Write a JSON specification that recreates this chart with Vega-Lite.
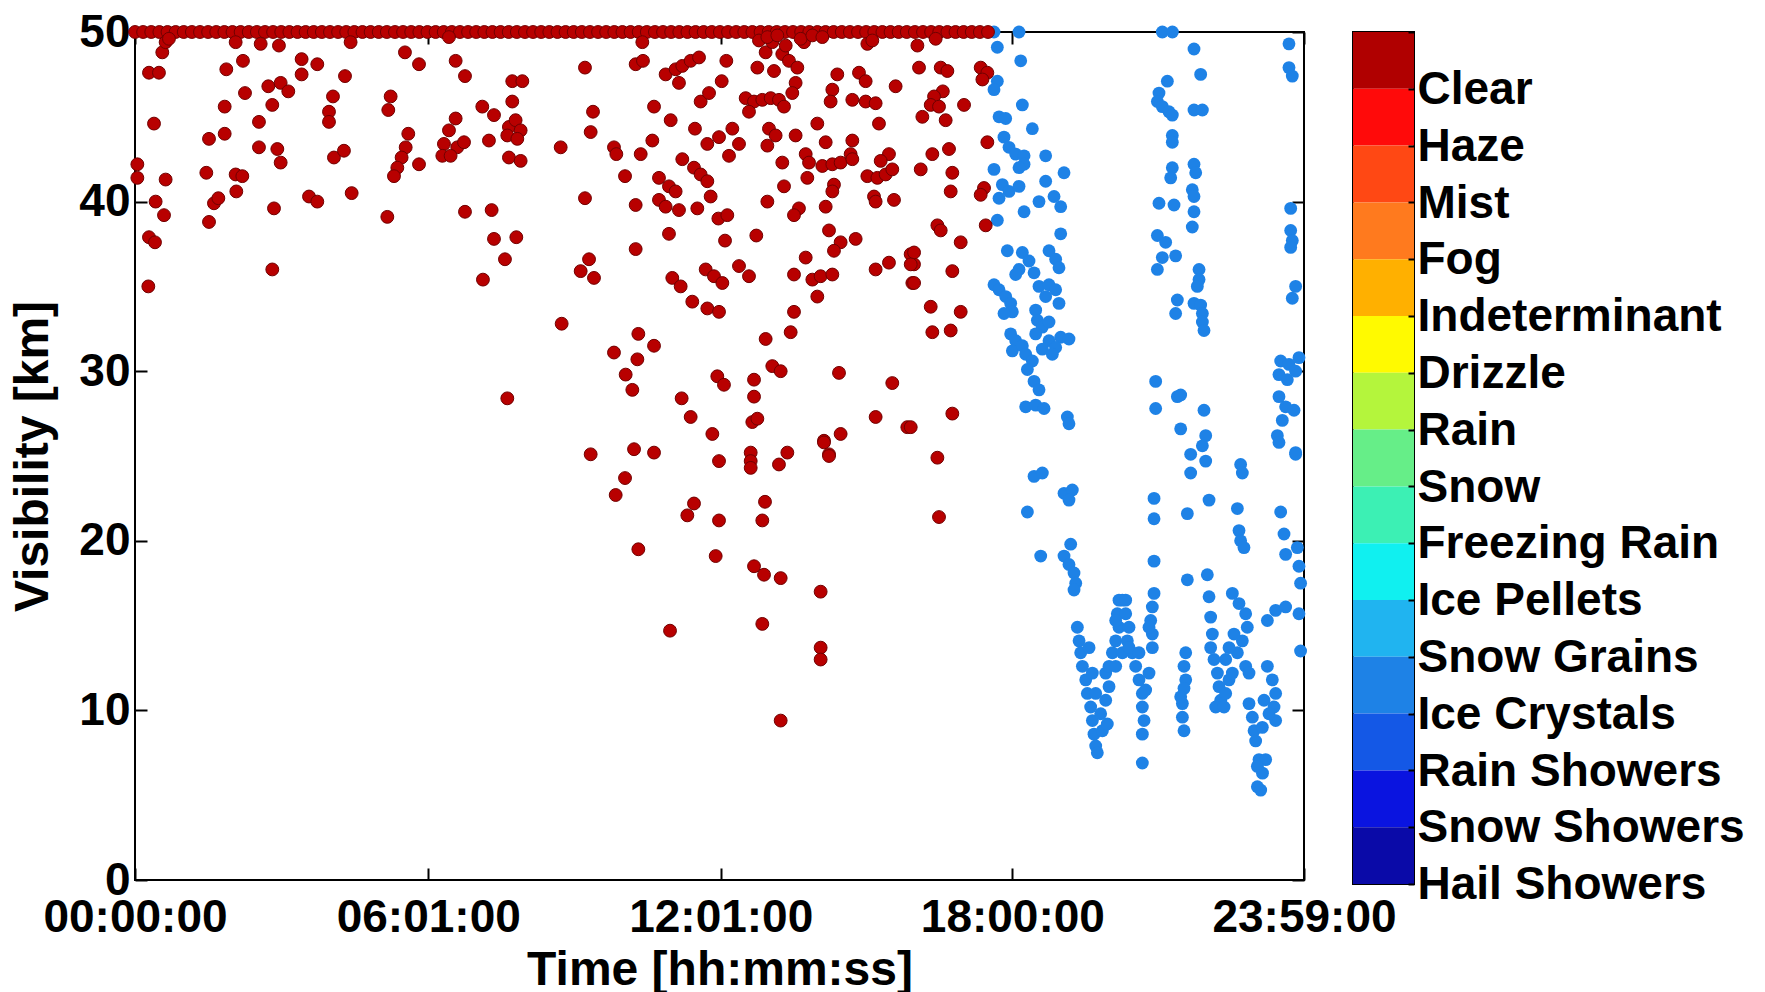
{
"$schema":"https://vega.github.io/schema/vega-lite/v6.json",
"background":"white",
"padding":{"left":8,"top":8,"right":2,"bottom":0},
"bounds":"flush",
"spacing":49,
"config":{"font":"Liberation Sans","view":{"stroke":"black","strokeWidth":2}},
"datasets":{
"line50":[{"t":0,"v":50},{"t":10,"v":50},{"t":20,"v":50},{"t":30,"v":50},{"t":40,"v":50},{"t":50,"v":50},{"t":60,"v":50},{"t":70,"v":50},{"t":80,"v":50},{"t":90,"v":50},{"t":100,"v":50},{"t":110,"v":50},{"t":120,"v":50},{"t":130,"v":50},{"t":140,"v":50},{"t":150,"v":50},{"t":160,"v":50},{"t":170,"v":50},{"t":180,"v":50},{"t":190,"v":50},{"t":200,"v":50},{"t":210,"v":50},{"t":220,"v":50},{"t":230,"v":50},{"t":240,"v":50},{"t":250,"v":50},{"t":260,"v":50},{"t":270,"v":50},{"t":280,"v":50},{"t":290,"v":50},{"t":300,"v":50},{"t":310,"v":50},{"t":320,"v":50},{"t":330,"v":50},{"t":340,"v":50},{"t":350,"v":50},{"t":360,"v":50},{"t":370,"v":50},{"t":380,"v":50},{"t":390,"v":50},{"t":400,"v":50},{"t":410,"v":50},{"t":420,"v":50},{"t":430,"v":50},{"t":440,"v":50},{"t":450,"v":50},{"t":460,"v":50},{"t":470,"v":50},{"t":480,"v":50},{"t":490,"v":50},{"t":500,"v":50},{"t":510,"v":50},{"t":520,"v":50},{"t":530,"v":50},{"t":540,"v":50},{"t":550,"v":50},{"t":560,"v":50},{"t":570,"v":50},{"t":580,"v":50},{"t":590,"v":50},{"t":600,"v":50},{"t":610,"v":50},{"t":620,"v":50},{"t":630,"v":50},{"t":640,"v":50},{"t":650,"v":50},{"t":660,"v":50},{"t":670,"v":50},{"t":680,"v":50},{"t":690,"v":50},{"t":700,"v":50},{"t":710,"v":50},{"t":720,"v":50},{"t":730,"v":50},{"t":740,"v":50},{"t":750,"v":50},{"t":760,"v":50},{"t":770,"v":50},{"t":780,"v":50},{"t":790,"v":50},{"t":800,"v":50},{"t":810,"v":50},{"t":820,"v":50},{"t":830,"v":50},{"t":840,"v":50},{"t":850,"v":50},{"t":860,"v":50},{"t":870,"v":50},{"t":880,"v":50},{"t":890,"v":50},{"t":900,"v":50},{"t":910,"v":50},{"t":920,"v":50},{"t":930,"v":50},{"t":940,"v":50},{"t":950,"v":50},{"t":960,"v":50},{"t":970,"v":50},{"t":980,"v":50},{"t":990,"v":50},{"t":1000,"v":50},{"t":1010,"v":50},{"t":1020,"v":50},{"t":1030,"v":50},{"t":1040,"v":50},{"t":1050,"v":50}],
"clear":[{"t":33.6,"v":48.8},{"t":17.2,"v":47.6},{"t":29.5,"v":47.6},{"t":23.4,"v":44.6},{"t":2.9,"v":42.2},{"t":2.9,"v":41.4},{"t":37.7,"v":41.3},{"t":25.4,"v":40.0},{"t":35.7,"v":39.2},{"t":17.2,"v":37.9},{"t":24.6,"v":37.6},{"t":16.4,"v":35.0},{"t":37.7,"v":49.4},{"t":41.8,"v":49.6},{"t":123.9,"v":49.4},{"t":112.4,"v":47.8},{"t":132.9,"v":48.3},{"t":135.4,"v":46.4},{"t":110.4,"v":45.6},{"t":91.1,"v":43.7},{"t":110.4,"v":44.0},{"t":87.8,"v":41.7},{"t":123.9,"v":41.6},{"t":132.1,"v":41.5},{"t":124.7,"v":40.6},{"t":97.2,"v":39.9},{"t":102.6,"v":40.2},{"t":91.1,"v":38.8},{"t":154.7,"v":49.3},{"t":177.2,"v":49.2},{"t":164.1,"v":46.8},{"t":179.3,"v":47.0},{"t":188.7,"v":46.5},{"t":169.0,"v":45.7},{"t":152.6,"v":44.7},{"t":152.6,"v":43.2},{"t":175.2,"v":43.1},{"t":179.3,"v":42.3},{"t":171.1,"v":39.6},{"t":169.0,"v":36.0},{"t":205.1,"v":48.4},{"t":205.1,"v":47.5},{"t":224.4,"v":48.1},{"t":214.2,"v":40.3},{"t":224.4,"v":40.0},{"t":243.7,"v":46.2},{"t":238.8,"v":45.3},{"t":238.8,"v":44.7},{"t":258.5,"v":47.4},{"t":244.9,"v":42.6},{"t":257.2,"v":43.0},{"t":266.7,"v":40.5},{"t":265.4,"v":49.4},{"t":332.3,"v":48.8},{"t":349.6,"v":48.1},{"t":314.7,"v":46.2},{"t":311.8,"v":45.4},{"t":336.4,"v":44.0},{"t":333.2,"v":43.2},{"t":328.2,"v":42.6},{"t":322.9,"v":42.0},{"t":318.8,"v":41.5},{"t":349.6,"v":42.2},{"t":310.6,"v":39.1},{"t":394.7,"v":48.3},{"t":406.2,"v":47.4},{"t":386.5,"v":49.7},{"t":394.7,"v":44.9},{"t":386.5,"v":44.2},{"t":380.3,"v":43.4},{"t":378.3,"v":42.7},{"t":396.7,"v":43.2},{"t":405.0,"v":43.5},{"t":388.5,"v":42.7},{"t":427.5,"v":45.6},{"t":441.9,"v":45.1},{"t":435.7,"v":43.6},{"t":406.2,"v":39.4},{"t":439.0,"v":39.5},{"t":441.9,"v":37.8},{"t":469.4,"v":37.9},{"t":455.4,"v":36.6},{"t":428.3,"v":35.4},{"t":458.3,"v":28.4},{"t":464.4,"v":47.1},{"t":476.8,"v":47.1},{"t":464.4,"v":45.9},{"t":460.3,"v":44.4},{"t":468.5,"v":44.8},{"t":474.7,"v":44.2},{"t":458.3,"v":43.9},{"t":470.6,"v":43.7},{"t":460.3,"v":42.6},{"t":474.7,"v":42.4},
{"t":624.5,"v":49.4},{"t":553.9,"v":47.9},{"t":616.3,"v":48.1},{"t":625.3,"v":48.3},{"t":653.2,"v":47.5},{"t":665.5,"v":47.8},{"t":673.7,"v":48.0},{"t":684.0,"v":48.3},{"t":694.3,"v":48.5},{"t":669.6,"v":47.0},{"t":727.9,"v":48.3},{"t":722.2,"v":47.1},{"t":696.3,"v":45.9},{"t":706.6,"v":46.4},{"t":638.9,"v":45.6},{"t":659.4,"v":44.8},{"t":563.8,"v":45.3},{"t":560.9,"v":44.1},{"t":524.0,"v":43.2},{"t":589.6,"v":43.2},{"t":592.5,"v":42.8},{"t":636.8,"v":43.6},{"t":622.5,"v":42.8},{"t":689.3,"v":44.3},{"t":735.3,"v":44.3},{"t":718.9,"v":43.8},{"t":704.5,"v":43.4},{"t":743.5,"v":43.4},{"t":731.2,"v":42.7},{"t":673.7,"v":42.5},{"t":688.1,"v":42.0},{"t":696.3,"v":41.6},{"t":704.5,"v":41.2},{"t":603.2,"v":41.5},{"t":645.0,"v":41.4},{"t":657.3,"v":40.9},{"t":665.5,"v":40.6},{"t":708.6,"v":40.3},{"t":553.9,"v":40.2},{"t":616.3,"v":39.8},{"t":645.0,"v":40.1},{"t":653.2,"v":39.7},{"t":669.6,"v":39.5},{"t":692.2,"v":39.6},{"t":718.1,"v":39.0},{"t":729.1,"v":39.2},{"t":657.3,"v":38.1},{"t":726.3,"v":37.7},{"t":764.8,"v":38.0},{"t":616.3,"v":37.2},{"t":558.9,"v":36.6},{"t":548.6,"v":35.9},{"t":565.0,"v":35.5},{"t":661.4,"v":35.5},{"t":671.7,"v":35.0},{"t":702.5,"v":36.0},{"t":712.7,"v":35.6},{"t":723.0,"v":35.2},{"t":743.5,"v":36.2},{"t":755.8,"v":35.6},{"t":686.0,"v":34.1},{"t":704.5,"v":33.7},{"t":718.9,"v":33.5},{"t":525.2,"v":32.8},{"t":619.6,"v":32.2},{"t":589.6,"v":31.1},{"t":638.9,"v":31.5},{"t":618.4,"v":30.7},{"t":604.0,"v":29.8},{"t":612.2,"v":28.9},{"t":776.3,"v":31.9},{"t":716.8,"v":29.7},{"t":725.0,"v":29.2},{"t":672.9,"v":28.4},{"t":684.0,"v":27.3},{"t":710.7,"v":26.3},{"t":762.0,"v":29.5},{"t":762.0,"v":28.5},{"t":759.9,"v":27.0},{"t":766.1,"v":27.2},{"t":784.5,"v":30.3},{"t":794.8,"v":30.0},{"t":778.4,"v":40.0},{"t":766.1,"v":47.9},{"t":786.6,"v":47.7},{"t":776.3,"v":48.8},{"t":784.5,"v":49.4},{"t":796.8,"v":48.7},{"t":805.0,"v":48.3},{"t":815.3,"v":47.9},{"t":823.5,"v":49.4},{"t":813.2,"v":47.0},{"t":809.1,"v":46.4},{"t":751.7,"v":46.1},{"t":762.0,"v":45.9},{"t":772.2,"v":46.0},{"t":782.5,"v":46.1},{"t":792.7,"v":46.0},{"t":798.9,"v":45.6},{"t":755.8,"v":45.3},{"t":780.4,"v":44.3},{"t":788.6,"v":43.9},{"t":778.4,"v":43.3},{"t":813.2,"v":43.9},{"t":796.8,"v":42.3},{"t":798.9,"v":40.9},{"t":839.9,"v":44.6},{"t":825.6,"v":42.8},{"t":829.7,"v":42.3},{"t":827.6,"v":41.4},{"t":850.2,"v":43.5},{"t":846.1,"v":42.1},{"t":858.4,"v":42.2},{"t":868.6,"v":42.3},{"t":883.0,"v":43.6},{"t":880.9,"v":42.8},{"t":883.0,"v":42.5},{"t":860.4,"v":41.0},{"t":858.4,"v":40.6},{"t":850.2,"v":39.7},{"t":817.3,"v":39.6},{"t":811.2,"v":39.2},{"t":864.5,"v":47.5},{"t":858.4,"v":46.6},{"t":856.3,"v":45.9},{"t":891.2,"v":47.6},{"t":899.4,"v":47.1},{"t":883.0,"v":46.0},{"t":899.4,"v":45.9},{"t":911.7,"v":45.8},{"t":936.3,"v":46.8},{"t":915.8,"v":44.6},{"t":901.5,"v":41.5},{"t":913.8,"v":41.4},{"t":924.0,"v":41.6},{"t":928.1,"v":42.8},{"t":917.9,"v":42.4},{"t":932.2,"v":41.9},{"t":909.7,"v":40.3},{"t":911.7,"v":40.0},{"t":934.3,"v":40.1},{"t":854.3,"v":38.3},{"t":868.6,"v":37.6},{"t":860.4,"v":37.1},{"t":887.1,"v":37.8},{"t":825.6,"v":36.7},{"t":811.2,"v":35.7},{"t":833.8,"v":35.4},{"t":844.0,"v":35.6},{"t":858.4,"v":35.7},{"t":839.9,"v":34.4},{"t":811.2,"v":33.5},{"t":807.1,"v":32.3},{"t":911.7,"v":36.0},{"t":928.1,"v":36.4},{"t":954.8,"v":36.9},{"t":958.9,"v":36.3},{"t":956.9,"v":35.2},{"t":866.6,"v":29.9},{"t":932.2,"v":29.3},{"t":911.7,"v":27.3},{"t":950.7,"v":26.7},{"t":848.1,"v":25.9},{"t":868.6,"v":26.3},{"t":854.3,"v":25.1},{"t":901.5,"v":49.3},{"t":768.1,"v":49.5},{"t":778.4,"v":49.7},{"t":790.7,"v":49.8},{"t":801.0,"v":49.2},{"t":819.4,"v":49.6},{"t":833.8,"v":49.8},{"t":846.1,"v":49.7},{"t":907.6,"v":49.5},
{"t":560.9,"v":25.1},{"t":614.3,"v":25.4},{"t":638.9,"v":25.2},{"t":718.9,"v":24.7},{"t":757.9,"v":25.2},{"t":757.9,"v":24.7},{"t":757.9,"v":24.3},{"t":792.7,"v":24.5},{"t":803.0,"v":25.2},{"t":848.1,"v":25.8},{"t":854.3,"v":25.0},{"t":603.2,"v":23.7},{"t":591.7,"v":22.7},{"t":688.1,"v":22.2},{"t":679.9,"v":21.5},{"t":718.9,"v":21.2},{"t":775.5,"v":22.3},{"t":772.2,"v":21.2},{"t":619.6,"v":19.5},{"t":714.8,"v":19.1},{"t":762.0,"v":18.5},{"t":774.3,"v":18.0},{"t":794.8,"v":17.8},{"t":844.0,"v":17.0},{"t":658.6,"v":14.7},{"t":772.2,"v":15.1},{"t":844.0,"v":13.7},{"t":844.0,"v":13.0},{"t":794.8,"v":9.4},
{"t":963.1,"v":49.2},{"t":985.6,"v":49.6},{"t":965.1,"v":47.9},{"t":991.8,"v":47.9},{"t":1000.0,"v":47.7},{"t":1041.0,"v":47.9},{"t":1049.2,"v":47.6},{"t":1043.1,"v":47.2},{"t":994.4,"v":46.5},{"t":983.6,"v":46.2},{"t":979.5,"v":45.7},{"t":989.7,"v":45.6},{"t":969.2,"v":45.0},{"t":997.9,"v":44.8},{"t":1020.5,"v":45.7},{"t":1049.2,"v":43.5},{"t":981.5,"v":42.8},{"t":1002.0,"v":43.1},{"t":967.2,"v":41.9},{"t":1006.1,"v":41.7},{"t":1004.1,"v":40.6},{"t":1045.1,"v":40.8},{"t":1041.0,"v":40.4},{"t":987.7,"v":38.6},{"t":991.8,"v":38.3},{"t":1047.2,"v":38.6},{"t":1016.4,"v":37.6},{"t":959.0,"v":37.0},{"t":954.9,"v":36.3},{"t":959.0,"v":35.2},{"t":1006.1,"v":35.9},{"t":979.5,"v":33.8},{"t":1016.4,"v":33.5},{"t":981.5,"v":32.3},{"t":1004.1,"v":32.4},{"t":1006.1,"v":27.5},{"t":954.9,"v":26.7},{"t":987.7,"v":24.9},{"t":989.7,"v":21.4}],
"ice":[{"t":1057.4,"v":50.0},{"t":1088.2,"v":50.0},{"t":1061.5,"v":49.1},{"t":1090.3,"v":48.3},{"t":1061.5,"v":47.1},{"t":1057.4,"v":46.6},{"t":1092.3,"v":45.7},{"t":1063.6,"v":45.0},{"t":1071.8,"v":44.9},{"t":1104.6,"v":44.3},{"t":1069.7,"v":43.8},{"t":1075.9,"v":43.2},{"t":1084.1,"v":42.8},{"t":1094.4,"v":42.7},{"t":1094.4,"v":42.2},{"t":1088.2,"v":42.0},{"t":1057.4,"v":41.9},{"t":1121.0,"v":42.7},{"t":1143.6,"v":41.7},{"t":1121.0,"v":41.2},{"t":1067.7,"v":41.0},{"t":1075.9,"v":40.6},{"t":1088.2,"v":40.9},{"t":1063.6,"v":40.2},{"t":1112.8,"v":40.0},{"t":1131.3,"v":40.3},{"t":1139.5,"v":39.7},{"t":1094.4,"v":39.4},{"t":1061.5,"v":38.9},{"t":1139.5,"v":38.1},{"t":1073.8,"v":37.1},{"t":1092.3,"v":37.0},{"t":1100.5,"v":36.5},{"t":1088.2,"v":36.0},{"t":1084.1,"v":35.7},{"t":1125.1,"v":37.1},{"t":1133.3,"v":36.6},{"t":1137.4,"v":36.1},{"t":1106.7,"v":35.8},{"t":1057.4,"v":35.1},{"t":1063.6,"v":34.8},{"t":1071.8,"v":34.4},{"t":1077.9,"v":34.0},{"t":1080.0,"v":33.5},{"t":1069.7,"v":33.4},{"t":1112.8,"v":35.0},{"t":1125.1,"v":35.1},{"t":1133.3,"v":34.8},{"t":1121.0,"v":34.4},{"t":1137.4,"v":34.0},{"t":1108.7,"v":33.6},{"t":1110.8,"v":33.0},{"t":1116.9,"v":32.6},{"t":1125.1,"v":32.9},{"t":1077.9,"v":32.2},{"t":1084.1,"v":31.8},{"t":1080.0,"v":31.2},{"t":1092.3,"v":31.5},{"t":1096.4,"v":31.0},{"t":1108.7,"v":32.2},{"t":1125.1,"v":31.8},{"t":1139.5,"v":32.0},{"t":1149.7,"v":31.9},{"t":1133.3,"v":31.4},{"t":1116.9,"v":31.3},{"t":1129.2,"v":31.0},{"t":1104.6,"v":30.6},{"t":1098.5,"v":30.1},{"t":1106.7,"v":29.4},{"t":1112.8,"v":28.9},{"t":1096.4,"v":27.9},{"t":1108.7,"v":28.0},{"t":1119.0,"v":27.8},{"t":1147.7,"v":27.3},{"t":1149.7,"v":26.9},
{"t":1264.6,"v":50.0},{"t":1277.0,"v":50.0},{"t":1303.6,"v":49.0},{"t":1311.8,"v":47.5},{"t":1270.8,"v":47.1},{"t":1260.5,"v":46.4},{"t":1258.5,"v":45.9},{"t":1264.6,"v":45.6},{"t":1272.8,"v":45.3},{"t":1276.9,"v":45.1},{"t":1303.6,"v":45.4},{"t":1313.9,"v":45.4},{"t":1276.9,"v":43.9},{"t":1276.9,"v":43.5},{"t":1276.9,"v":42.0},{"t":1274.9,"v":41.4},{"t":1303.6,"v":42.2},{"t":1305.7,"v":41.7},{"t":1301.5,"v":40.7},{"t":1303.6,"v":40.3},{"t":1260.5,"v":39.9},{"t":1279.0,"v":39.8},{"t":1303.6,"v":39.4},{"t":1301.5,"v":38.5},{"t":1258.5,"v":38.0},{"t":1268.7,"v":37.6},{"t":1281.0,"v":36.8},{"t":1264.6,"v":36.7},{"t":1258.5,"v":36.0},{"t":1309.8,"v":36.0},{"t":1309.8,"v":35.4},{"t":1307.7,"v":35.0},{"t":1283.1,"v":34.2},{"t":1281.0,"v":33.4},{"t":1303.6,"v":34.0},{"t":1311.8,"v":33.9},{"t":1313.9,"v":33.4},{"t":1313.9,"v":32.9},{"t":1315.9,"v":32.4},{"t":1256.4,"v":29.4},{"t":1256.4,"v":27.8},{"t":1283.1,"v":28.5},{"t":1287.2,"v":28.6},{"t":1315.9,"v":27.7},{"t":1287.2,"v":26.6},{"t":1318.0,"v":26.2},{"t":1313.9,"v":25.6},{"t":1299.5,"v":25.1},
{"t":1420.5,"v":49.3},{"t":1420.5,"v":47.9},{"t":1424.6,"v":47.4},{"t":1422.6,"v":39.6},{"t":1422.6,"v":38.3},{"t":1424.6,"v":37.7},{"t":1422.6,"v":37.3},{"t":1428.7,"v":35.0},{"t":1424.6,"v":34.3},{"t":1410.3,"v":30.6},{"t":1420.5,"v":30.4},{"t":1432.8,"v":30.8},{"t":1408.2,"v":29.8},{"t":1418.5,"v":29.5},{"t":1428.7,"v":30.0},{"t":1408.2,"v":28.5},{"t":1416.4,"v":27.9},{"t":1426.7,"v":27.7},{"t":1412.3,"v":27.1},{"t":1406.2,"v":26.2},{"t":1428.7,"v":25.2},
{"t":1106.7,"v":23.8},{"t":1116.9,"v":24.0},{"t":1143.6,"v":22.8},{"t":1153.8,"v":23.0},{"t":1149.7,"v":22.4},{"t":1098.5,"v":21.7},{"t":1114.9,"v":19.1},{"t":1151.8,"v":19.8},{"t":1143.6,"v":19.1},{"t":1149.7,"v":18.6},{"t":1155.9,"v":18.1},{"t":1158.0,"v":17.5},{"t":1155.9,"v":17.1},
{"t":1160.0,"v":14.9},{"t":1162.1,"v":14.1},{"t":1164.1,"v":13.4},{"t":1166.2,"v":12.6},{"t":1170.3,"v":11.8},{"t":1172.3,"v":11.0},{"t":1176.4,"v":10.2},{"t":1178.5,"v":9.4},{"t":1180.5,"v":8.6},{"t":1182.6,"v":7.9},{"t":1184.6,"v":7.5},{"t":1174.4,"v":13.7},{"t":1178.5,"v":12.2},{"t":1182.6,"v":11.0},{"t":1188.7,"v":9.8},{"t":1190.8,"v":8.8},{"t":1194.9,"v":10.6},{"t":1199.0,"v":11.4},{"t":1194.9,"v":12.2},{"t":1196.9,"v":9.2},{"t":1199.0,"v":12.6},{"t":1203.1,"v":13.4},{"t":1207.2,"v":14.1},{"t":1211.3,"v":14.9},{"t":1209.2,"v":15.7},{"t":1215.4,"v":16.5},{"t":1219.5,"v":15.7},{"t":1223.6,"v":14.9},{"t":1221.5,"v":14.1},{"t":1227.7,"v":13.4},{"t":1231.8,"v":12.6},{"t":1235.9,"v":11.8},{"t":1240.0,"v":11.0},{"t":1240.0,"v":10.2},{"t":1242.1,"v":9.4},{"t":1240.0,"v":8.6},{"t":1244.1,"v":11.2},{"t":1248.2,"v":12.2},{"t":1240.0,"v":6.9},{"t":1211.3,"v":16.5},{"t":1219.5,"v":16.5},{"t":1207.2,"v":15.3},{"t":1215.4,"v":13.4},{"t":1207.2,"v":12.6},{"t":1223.6,"v":13.7},{"t":1235.9,"v":13.4},
{"t":1254.4,"v":22.5},{"t":1254.4,"v":21.3},{"t":1254.4,"v":18.8},{"t":1254.4,"v":16.9},{"t":1252.3,"v":16.1},{"t":1250.3,"v":15.3},{"t":1252.3,"v":14.5},{"t":1252.3,"v":13.7},{"t":1248.2,"v":14.9},
{"t":1293.4,"v":13.4},{"t":1291.3,"v":12.6},{"t":1293.4,"v":11.8},{"t":1291.3,"v":11.3},{"t":1289.3,"v":10.4},{"t":1289.3,"v":9.6},{"t":1291.3,"v":8.8},{"t":1287.2,"v":10.8},{"t":1295.4,"v":17.7},{"t":1299.5,"v":24.0},{"t":1318.0,"v":24.7},{"t":1295.4,"v":21.6},{"t":1322.1,"v":22.4},{"t":1320.0,"v":18.0},{"t":1322.1,"v":16.7},{"t":1324.1,"v":15.5},{"t":1326.2,"v":14.5},{"t":1324.1,"v":13.7},{"t":1328.2,"v":13.0},{"t":1332.4,"v":12.2},{"t":1334.4,"v":11.4},{"t":1336.5,"v":10.6},{"t":1330.3,"v":10.2},{"t":1342.6,"v":11.0},{"t":1346.7,"v":11.8},{"t":1340.6,"v":10.2},{"t":1350.8,"v":16.9},{"t":1359.0,"v":16.3},{"t":1367.2,"v":15.7},{"t":1369.2,"v":14.9},{"t":1363.1,"v":14.1},{"t":1357.0,"v":13.4},{"t":1367.2,"v":12.6},{"t":1371.3,"v":12.2},{"t":1352.8,"v":14.5},{"t":1346.7,"v":13.7},{"t":1342.6,"v":13.0},{"t":1350.8,"v":12.2},{"t":1361.0,"v":24.5},{"t":1363.1,"v":24.0},{"t":1357.0,"v":21.9},{"t":1359.0,"v":20.6},{"t":1361.0,"v":20.0},{"t":1365.1,"v":19.6},{"t":1371.3,"v":10.4},{"t":1375.4,"v":9.6},{"t":1377.5,"v":8.8},{"t":1379.5,"v":8.2},{"t":1383.6,"v":7.1},{"t":1387.9,"v":6.3},{"t":1381.6,"v":5.5},{"t":1391.8,"v":7.1},{"t":1385.7,"v":5.3},{"t":1381.6,"v":6.7},{"t":1393.9,"v":12.6},{"t":1400.0,"v":11.8},{"t":1404.1,"v":11.0},{"t":1402.1,"v":10.2},{"t":1404.1,"v":9.4},{"t":1395.9,"v":9.8},{"t":1387.7,"v":9.0},{"t":1389.8,"v":10.6},{"t":1393.9,"v":15.3},{"t":1404.1,"v":15.9},{"t":1416.4,"v":16.1},{"t":1410.3,"v":21.7},{"t":1414.4,"v":20.4},{"t":1416.4,"v":19.2},{"t":1430.8,"v":19.6},{"t":1432.8,"v":18.5},{"t":1434.8,"v":17.5},{"t":1432.8,"v":15.7},{"t":1434.8,"v":13.5},{"t":1428.7,"v":25.1},{"t":1408.2,"v":25.8}],
"bar":[{"name":"Clear"},{"name":"Haze"},{"name":"Mist"},{"name":"Fog"},{"name":"Indeterminant"},{"name":"Drizzle"},{"name":"Rain"},{"name":"Snow"},{"name":"Freezing Rain"},{"name":"Ice Pellets"},{"name":"Snow Grains"},{"name":"Ice Crystals"},{"name":"Rain Showers"},{"name":"Snow Showers"},{"name":"Hail Showers"}]
},
"hconcat":[
{
"width":1169,"height":848,
"layer":[
{"data":{"name":"ice"},"mark":{"type":"circle","size":165,"color":"#1E82E6","opacity":1},
 "encoding":{
  "x":{"field":"t","type":"quantitative","scale":{"domain":[0,1439],"nice":false,"zero":false},
   "axis":{"orient":"bottom","values":[0,361,721,1080,1439],"labelExpr":"utcFormat(datum.value*60000,'%H:%M:%S')","labelFlush":false,"labelOverlap":false,"labelLimit":0,"domain":false,"grid":false,"ticks":true,"tickSize":-12,"tickWidth":2,"tickColor":"black","labelFont":"Liberation Sans","labelFontWeight":"bold","labelFontSize":46,"labelColor":"black","labelPadding":27,"title":"Time [hh:mm:ss]","titleFont":"Liberation Sans","titleFontSize":48,"titleFontWeight":"bold","titleColor":"black","titlePadding":6}},
  "y":{"field":"v","type":"quantitative","scale":{"domain":[0,50],"nice":false,"zero":true},
   "axis":{"orient":"left","values":[0,10,20,30,40,50],"labelFlush":false,"labelOverlap":false,"domain":false,"grid":false,"tickSize":-12,"tickWidth":2,"tickColor":"black","labelFont":"Liberation Sans","labelFontWeight":"bold","labelFontSize":46,"labelColor":"black","labelPadding":17,"title":"Visibility [km]","titleFont":"Liberation Sans","titleFontSize":48,"titleFontWeight":"bold","titleColor":"black","titlePadding":21}}}},
{"data":{"name":"line50"},"mark":{"type":"circle","size":165,"color":"#B80000","opacity":1,"stroke":"#700000","strokeWidth":1},
 "encoding":{"x":{"field":"t","type":"quantitative","axis":null},"y":{"field":"v","type":"quantitative","axis":null}}},
{"data":{"name":"clear"},"mark":{"type":"circle","size":165,"color":"#B80000","opacity":1,"stroke":"#700000","strokeWidth":1},
 "encoding":{"x":{"field":"t","type":"quantitative","axis":null},"y":{"field":"v","type":"quantitative","axis":null}}},
{"data":{"name":"line50"},"mark":{"type":"circle","opacity":0},
 "encoding":{
  "x":{"field":"t","type":"quantitative","axis":{"orient":"top","values":[0,361,721,1080,1439],"labels":false,"domain":false,"grid":false,"tickSize":-12,"tickWidth":2,"tickColor":"black","title":null}},
  "y":{"field":"v","type":"quantitative","axis":{"orient":"right","values":[0,10,20,30,40,50],"labels":false,"domain":false,"grid":false,"tickSize":-12,"tickWidth":2,"tickColor":"black","title":null}}}}
],
"resolve":{"axis":{"x":"independent","y":"independent"}}
},
{
"width":61,"height":852,
"data":{"name":"bar"},
"mark":{"type":"rect"},
"encoding":{
  "y":{"field":"name","type":"nominal","sort":null,"scale":{"paddingInner":0,"paddingOuter":0},
   "axis":{"orient":"right","labelOffset":29,"labelLimit":0,"tickBand":"extent","tickSize":-6,"tickWidth":2,"tickColor":"black","domain":false,"labelFont":"Liberation Sans","labelFontWeight":"bold","labelFontSize":46,"labelColor":"black","labelPadding":9,"labelBaseline":"middle","title":null}},
  "color":{"field":"name","type":"nominal","sort":null,"legend":null,
   "scale":{"domain":["Clear","Haze","Mist","Fog","Indeterminant","Drizzle","Rain","Snow","Freezing Rain","Ice Pellets","Snow Grains","Ice Crystals","Rain Showers","Snow Showers","Hail Showers"],
   "range":["#B00000","#FF0A0A","#FF4814","#FF7A1E","#FFB000","#FFFA00","#B4F53C","#66EE88","#3CF0B4","#10F0F0","#20B4F0","#1E82E6","#1458E6","#0A14E0","#0A0AA8"]}}}
}
]
}
